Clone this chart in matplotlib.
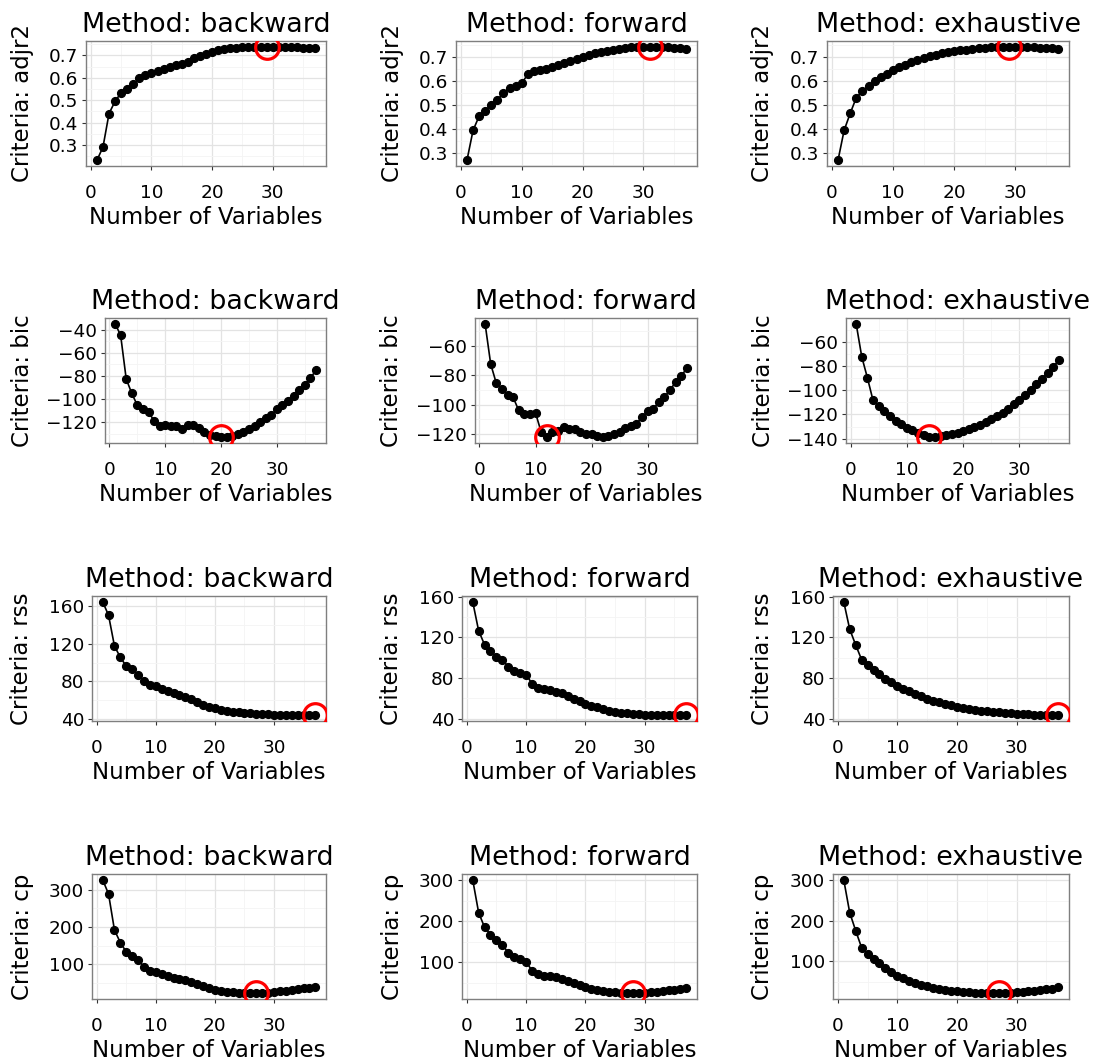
import matplotlib
matplotlib.use("Agg")
import matplotlib.pyplot as plt
import numpy as np
from matplotlib.ticker import AutoMinorLocator, MultipleLocator

n_vars = list(range(1, 38))
methods = ["backward", "forward", "exhaustive"]
criteria = ["adjr2", "bic", "rss", "cp"]

adjr2_backward = [0.231, 0.290, 0.440, 0.495, 0.533, 0.550, 0.570, 0.600, 0.613, 0.622,
                  0.630, 0.640, 0.650, 0.655, 0.662, 0.672, 0.688, 0.698, 0.708, 0.717,
                  0.723, 0.727, 0.731, 0.734, 0.736, 0.737, 0.738, 0.7385, 0.739, 0.7388,
                  0.7384, 0.738, 0.737, 0.736, 0.735, 0.734, 0.733]
adjr2_forward = [0.270, 0.394, 0.453, 0.476, 0.500, 0.520, 0.550, 0.570, 0.580, 0.590,
                 0.626, 0.642, 0.646, 0.650, 0.655, 0.665, 0.673, 0.683, 0.690, 0.698,
                 0.706, 0.713, 0.719, 0.725, 0.729, 0.733, 0.736, 0.738, 0.739, 0.740,
                 0.741, 0.740, 0.739, 0.738, 0.736, 0.735, 0.733]
adjr2_exhaustive = [0.270, 0.394, 0.465, 0.530, 0.557, 0.578, 0.597, 0.614, 0.629, 0.644,
                    0.656, 0.667, 0.677, 0.686, 0.694, 0.701, 0.707, 0.713, 0.718, 0.722,
                    0.726, 0.729, 0.732, 0.734, 0.736, 0.738, 0.739, 0.740, 0.741, 0.7405,
                    0.740, 0.739, 0.738, 0.737, 0.736, 0.735, 0.733]

bic_backward = [-34.9, -44.8, -82.5, -95.0, -105.2, -108.0, -111.0, -118.6, -122.8, -122.0,
                -122.8, -122.8, -125.7, -122.0, -122.3, -125.0, -128.5, -130.5, -131.3, -132.8,
                -132.3, -131.3, -130.0, -128.0, -125.7, -122.8, -120.0, -116.3, -113.5, -108.7,
                -105.0, -101.6, -97.3, -92.2, -87.4, -81.7, -75.2]
bic_forward = [-44.9, -72.4, -85.5, -89.3, -93.4, -95.0, -104.0, -106.5, -106.2, -105.8,
               -118.6, -122.3, -119.0, -118.0, -115.2, -116.4, -116.4, -118.6, -119.8, -120.2,
               -121.4, -121.8, -121.4, -120.2, -118.6, -115.7, -114.8, -113.0, -108.5, -104.6,
               -102.8, -98.3, -94.9, -89.8, -84.8, -80.3, -75.3]
bic_exhaustive = [-45.0, -72.4, -89.7, -108.4, -113.0, -117.2, -121.3, -125.4, -128.2, -130.9,
                  -133.1, -135.0, -137.0, -138.9, -138.6, -137.8, -137.0, -136.0, -135.0, -133.6,
                  -132.3, -130.4, -128.5, -126.3, -124.0, -121.3, -118.6, -115.3, -111.7, -108.4,
                  -104.3, -99.9, -95.2, -90.5, -85.6, -80.6, -75.1]

rss_backward = [165.0, 150.5, 117.7, 105.4, 96.2, 92.6, 87.2, 80.2, 76.2, 74.4,
                71.9, 69.3, 67.0, 65.6, 63.7, 61.0, 57.6, 54.8, 52.5, 51.0,
                49.8, 48.6, 47.6, 46.8, 46.1, 45.6, 45.2, 44.9, 44.6, 44.4,
                44.2, 44.0, 43.9, 43.8, 43.7, 43.65, 43.6]
rss_forward = [155.0, 126.5, 112.7, 106.5, 101.0, 98.0, 91.0, 86.6, 85.1, 83.3,
               74.3, 70.2, 69.0, 68.0, 66.5, 64.8, 61.9, 59.4, 57.0, 54.8,
               52.6, 51.0, 49.2, 47.8, 46.6, 45.7, 45.0, 44.6, 44.3, 44.0,
               43.8, 43.6, 43.5, 43.4, 43.3, 43.25, 43.2]
rss_exhaustive = [155.0, 128.0, 112.5, 98.0, 93.0, 87.6, 83.4, 79.4, 75.7, 72.5,
                  69.2, 66.7, 64.1, 61.9, 59.6, 57.7, 56.0, 54.4, 53.1, 51.8,
                  50.5, 49.6, 48.6, 47.9, 47.2, 46.6, 46.1, 45.6, 45.2, 44.8,
                  44.5, 44.2, 44.0, 43.8, 43.6, 43.4, 43.2]

cp_backward = [326.7, 288.4, 191.6, 157.8, 132.9, 122.2, 111.6, 92.9, 82.2, 77.8,
               73.3, 68.9, 62.7, 60.0, 57.3, 52.9, 46.7, 40.4, 35.1, 30.7,
               28.0, 26.2, 25.3, 23.6, 22.9, 22.7, 21.8, 22.5, 23.5, 25.0,
               27.0, 29.0, 31.0, 33.0, 35.0, 37.0, 39.5]
cp_forward = [301.6, 221.6, 185.6, 168.0, 154.4, 142.4, 124.0, 113.6, 108.0, 101.6,
              80.0, 72.0, 68.0, 66.4, 64.0, 60.0, 54.4, 49.6, 44.0, 40.0,
              36.0, 32.8, 30.4, 28.8, 27.2, 26.4, 25.6, 24.8, 25.6, 26.4,
              27.2, 28.8, 30.4, 32.0, 33.6, 36.0, 38.4]
cp_exhaustive = [301.6, 220.6, 176.1, 134.0, 119.4, 105.7, 95.1, 83.0, 73.3, 65.2,
                 58.7, 53.0, 47.4, 42.5, 38.5, 35.2, 32.8, 30.4, 28.0, 26.3,
                 24.7, 23.9, 23.1, 22.3, 22.1, 21.7, 21.5, 22.0, 22.8, 23.7,
                 24.7, 26.2, 27.9, 29.5, 31.1, 32.8, 36.0]

series = {
    "adjr2": [adjr2_backward, adjr2_forward, adjr2_exhaustive],
    "bic": [bic_backward, bic_forward, bic_exhaustive],
    "rss": [rss_backward, rss_forward, rss_exhaustive],
    "cp": [cp_backward, cp_forward, cp_exhaustive],
}
y_step = {"adjr2": 0.1, "bic": 20, "rss": 40, "cp": 100}

# panel boxes in pixels (ggplot arranged grid)
W, H = 1095, 1063
row_top = [41, 318, 596, 874]
row_bottom = [166, 443, 721, 999]
col_left = [[86, 456, 827], [105, 475, 846], [92, 462, 833], [92, 462, 833]]
col_right = [326, 697, 1069]
ylabel_x = [22, 392, 763]

plt.rcParams["font.family"] = "DejaVu Sans"
fig = plt.figure(figsize=(W / 100, H / 100), dpi=100)

for r, crit in enumerate(criteria):
    for c, method in enumerate(methods):
        left, right = col_left[r][c], col_right[c]
        top, bottom = row_top[r], row_bottom[r]
        ax = fig.add_axes([left / W, 1 - bottom / H, (right - left) / W, (bottom - top) / H])

        y = series[crit][c]
        best = int(np.argmax(y)) if crit == "adjr2" else int(np.argmin(y))

        ax.plot(n_vars, y, color="black", lw=1.2, zorder=3)
        ax.plot(n_vars, y, "o", color="black", ms=5.6, zorder=4)
        ax.plot(n_vars[best], y[best], "o", mfc="none", mec="red", ms=17, mew=2.3, zorder=5)

        ax.margins(0.05)
        ax.xaxis.set_major_locator(MultipleLocator(10))
        ax.yaxis.set_major_locator(MultipleLocator(y_step[crit]))
        ax.xaxis.set_minor_locator(AutoMinorLocator(2))
        ax.yaxis.set_minor_locator(AutoMinorLocator(2))
        ax.grid(which="major", color="#e3e3e3", lw=0.9)
        ax.grid(which="minor", color="#f4f4f4", lw=0.6)
        ax.set_axisbelow(True)

        for sp in ax.spines.values():
            sp.set_color("#7f7f7f")
            sp.set_linewidth(1.0)

        ax.tick_params(which="major", length=3.2, width=0.8, color="#333333",
                       labelsize=13.3, labelcolor="black")
        ax.tick_params(axis="x", which="major", pad=9.5)
        ax.tick_params(axis="y", which="major", pad=2.5)
        ax.tick_params(which="minor", length=0)

        ax.set_title(f"Method: {method}", fontsize=19.4, pad=6.7)
        ax.set_xlabel("Number of Variables", fontsize=16.5, labelpad=3)
        ax.set_ylabel(f"Criteria: {crit}", fontsize=16.5)
        ax.yaxis.label.set_va("center")
        ax.yaxis.set_label_coords((ylabel_x[c] - left) / (right - left), 0.5)

fig.savefig("out.png", dpi=100)
